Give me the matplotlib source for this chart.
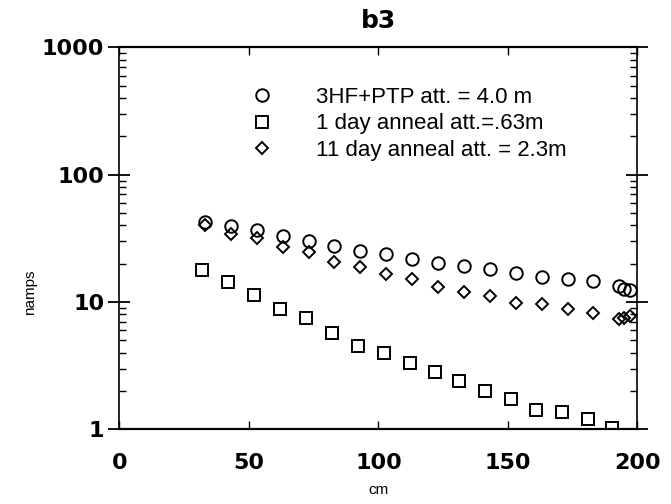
import matplotlib
matplotlib.use("Agg")
import matplotlib.pyplot as plt
from matplotlib.ticker import LogLocator, NullFormatter, FixedLocator

# Data
x_circ = [33, 43, 53, 63, 73, 83, 93, 103, 113, 123, 133, 143, 153, 163, 173, 183, 193, 195, 197]
y_circ = [42.6, 39.5, 36.6, 32.8, 30.1, 27.7, 25.4, 23.8, 21.7, 20.4, 19.2, 18.1, 16.9, 15.8, 15.2, 14.6, 13.3, 12.7, 12.4]

x_sq = [32, 42, 52, 62, 72, 82, 92, 102, 112, 122, 131, 141, 151, 161, 171, 181, 190]
y_sq = [17.9, 14.4, 11.4, 8.9, 7.5, 5.7, 4.5, 4.0, 3.3, 2.8, 2.4, 2.0, 1.72, 1.43, 1.36, 1.21, 1.02]

x_dia = [33, 43, 53, 63, 73, 83, 93, 103, 113, 123, 133, 143, 153, 163, 173, 183, 193, 195, 197]
y_dia = [40.5, 34.0, 31.6, 27.2, 24.6, 20.7, 18.8, 16.5, 15.2, 13.1, 12.1, 11.1, 9.8, 9.7, 8.8, 8.2, 7.4, 7.5, 7.8]

labels = ["3HF+PTP att. = 4.0 m", "1 day anneal att.=.63m", "11 day anneal att. = 2.3m"]
x_ticks = [0, 50, 100, 150, 200]
y_ticks = [1, 10, 100, 1000]
y_ticklabels = ["1", "10", "100", "1000"]

plt.rcParams['font.family'] = ['Liberation Sans', 'DejaVu Sans']

fig = plt.figure(figsize=(6.71, 5.04), dpi=100)
ax = fig.add_axes([0.178, 0.148, 0.772, 0.758])

ax.plot(x_circ, y_circ, linestyle='none', marker='o', markersize=9, markerfacecolor='none',
        markeredgecolor='black', markeredgewidth=1.4, label=labels[0])
ax.plot(x_sq, y_sq, linestyle='none', marker='s', markersize=8, markerfacecolor='none',
        markeredgecolor='black', markeredgewidth=1.4, label=labels[1])
ax.plot(x_dia, y_dia, linestyle='none', marker='D', markersize=6, markerfacecolor='none',
        markeredgecolor='black', markeredgewidth=1.4, label=labels[2])

ax.set_yscale('log')
ax.set_xlim(0, 200)
ax.set_ylim(1, 1000)

tick_font = dict(family=['DejaVu Sans'], size=16, weight='bold')
ax.xaxis.set_major_locator(FixedLocator(x_ticks))
ax.set_xticklabels([str(v) for v in x_ticks], fontdict=tick_font)
ax.set_yticks(y_ticks)
ax.set_yticklabels(y_ticklabels, fontdict=tick_font)
ax.yaxis.set_minor_locator(LogLocator(base=10, subs=range(2, 10)))
ax.yaxis.set_minor_formatter(NullFormatter())

ax.tick_params(axis='y', which='major', direction='inout', length=16, width=1.3,
               left=True, right=True, pad=3)
ax.tick_params(axis='y', which='minor', direction='in', length=5, width=1,
               left=True, right=True)
ax.tick_params(axis='x', which='major', direction='in', length=6, width=1,
               top=True, bottom=True, pad=17)

for s in ax.spines.values():
    s.set_linewidth(1.2)
ax.spines['top'].set_linewidth(1.6)
ax.spines['bottom'].set_linewidth(1.6)

ax.set_xlabel("cm", fontsize=11, labelpad=7)
ax.set_ylabel("namps", fontsize=11)
ax.yaxis.set_label_coords(-0.16, 0.36)
ax.set_title("b3", fontsize=18, fontweight='bold', family=['DejaVu Sans'], pad=14)

ax.legend(loc='upper left', bbox_to_anchor=(0.215, 0.92), frameon=False, fontsize=16,
          handletextpad=1.45, labelspacing=0.25, borderaxespad=0)

fig.savefig("out.png", dpi=100)
